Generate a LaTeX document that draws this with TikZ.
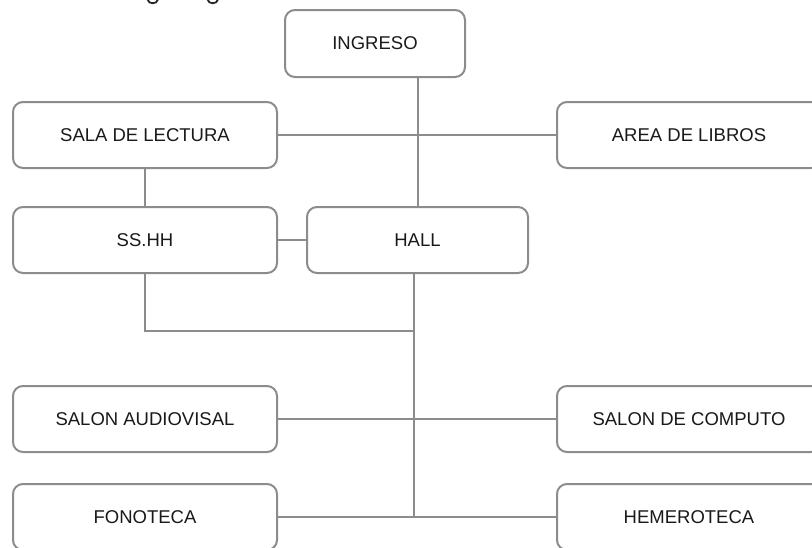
\documentclass[tikz,border=0pt]{standalone}
\usepackage{fontspec}
\setmainfont{Liberation Sans}
\begin{document}
\begin{tikzpicture}[x=1pt,y=-1pt,
  room/.style={draw=black!45, line width=2pt, rounded corners=10pt, fill=white,
    minimum width=264pt, minimum height=66pt, inner sep=0pt,
    text=black!90, font=\fontsize{18.5}{20}\selectfont},
  link/.style={draw=black!45, line width=2pt}]
\useasboundingbox (0,0) rectangle (812,547);
\clip (0,0) rectangle (812,547);

% room boxes
\node[room, minimum width=180pt, minimum height=67pt] (ing) at (375,43.5) {INGRESO};
\node[room] (sala) at (145,135) {SALA DE LECTURA};
\node[room] (area) at (689,135) {AREA DE LIBROS};
\node[room] (sshh) at (145,240) {SS.HH};
\node[room, minimum width=221pt, minimum height=66pt] (hall) at (417.5,240) {HALL};
\node[room] (sav) at (145,419) {SALON AUDIOVISAL};
\node[room] (sdc) at (689,419) {SALON DE COMPUTO};
\node[room] (fono) at (145,517) {FONOTECA};
\node[room] (hem) at (689,517) {HEMEROTECA};

% junction points of the lower trunk
\coordinate (j1) at (414,331);
\coordinate (j3) at (414,517);

% connectors
\draw[link] (ing.south -| hall.north) -- (hall.north);
\draw[link] (sala.east) -- (area.west);
\draw[link] (sala.south) -- (sshh.north);
\draw[link] (sshh.east) -- (hall.west);
\draw[link] (sshh.south) -- (sshh.south |- j1) -- (j1);
\draw[link] (hall.south -| j1) -- (j3);
\draw[link] (sav.east) -- (sdc.west);
\draw[link] (fono.east) -- (hem.west);

% descenders of the heading cut by the top edge
\draw[line width=1.8pt, black!85] (147.5,-0.5) .. controls (148.5,4.5) and (157,4.5) .. (158,-0.5);
\draw[line width=1.8pt, black!85] (207.5,-0.5) .. controls (208.5,4.5) and (217,4.5) .. (218,-0.5);
\end{tikzpicture}
\end{document}
